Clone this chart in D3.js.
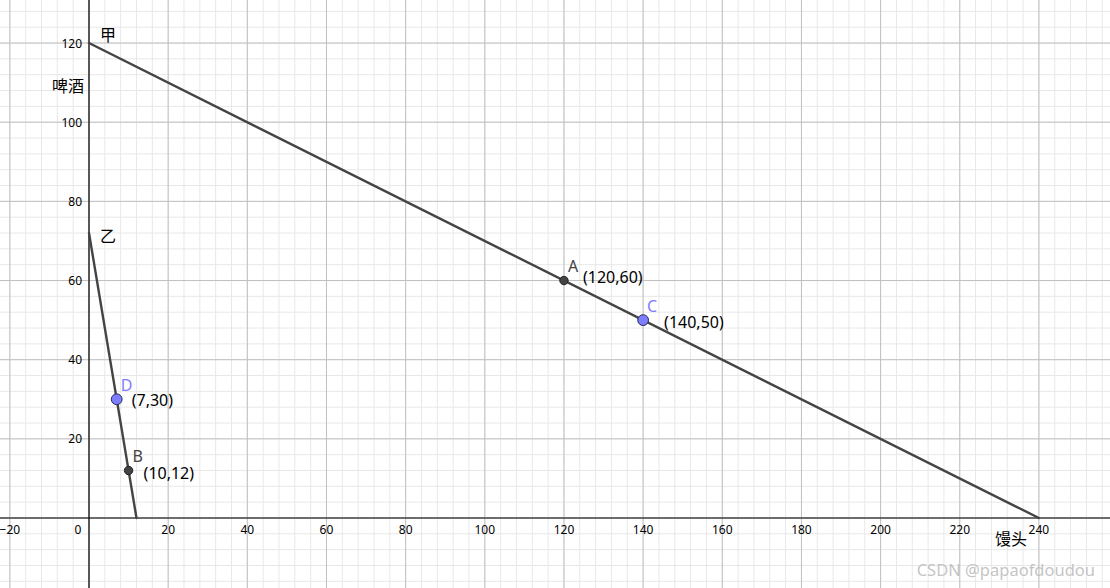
<!DOCTYPE html>
<html>
<head>
<meta charset="utf-8">
<script src="https://cdn.jsdelivr.net/npm/d3@7"></script>
<style>
  body { margin: 0; background: #fff; }
  svg { display: block; font-family: "Noto Sans", "Noto Sans CJK SC", sans-serif; }
</style>
</head>
<body>
<svg id="chart" width="1110" height="588"></svg>
<script>
// data
const xTicks = [-20, 0, 20, 40, 60, 80, 100, 120, 140, 160, 180, 200, 220, 240]
const yTicks = [20, 40, 60, 80, 100, 120]
const lines = [
  { name: "甲", from: [0, 120], to: [240, 0] },
  { name: "乙", from: [0, 72], to: [12, 0] }
]
const points = [
  { name: "A", x: 120, y: 60, kind: "fixed" },
  { name: "B", x: 10, y: 12, kind: "fixed" },
  { name: "C", x: 140, y: 50, kind: "free" },
  { name: "D", x: 7, y: 30, kind: "free" }
]
const xAxisName = "馒头", yAxisName = "啤酒"

const W = 1110, H = 588
const x0 = 89, y0 = 518, k = 3.958
const x = d3.scaleLinear().domain([-x0 / k, (W - x0) / k]).range([0, W])
const y = d3.scaleLinear().domain([(y0 - H) / k, y0 / k]).range([H, 0])

const svg = d3.select("#chart")

// minor grid every 4, major every 20
const minorX = d3.range(-20, 260, 4), minorY = d3.range(-16, 132, 4)
const g = svg.append("g")
g.selectAll(".mx").data(minorX).enter().append("line")
  .attr("x1", d => x(d)).attr("x2", d => x(d)).attr("y1", 0).attr("y2", H)
  .attr("stroke", "#e8e8e8").attr("stroke-width", 1)
g.selectAll(".my").data(minorY).enter().append("line")
  .attr("y1", d => y(d)).attr("y2", d => y(d)).attr("x1", 0).attr("x2", W)
  .attr("stroke", "#e8e8e8").attr("stroke-width", 1)
g.selectAll(".Mx").data(d3.range(-20, 260, 20)).enter().append("line")
  .attr("x1", d => x(d)).attr("x2", d => x(d)).attr("y1", 0).attr("y2", H)
  .attr("stroke", "#c0c0c0").attr("stroke-width", 1)
g.selectAll(".My").data(d3.range(-0, 132, 20)).enter().append("line")
  .attr("y1", d => y(d)).attr("y2", d => y(d)).attr("x1", 0).attr("x2", W)
  .attr("stroke", "#c0c0c0").attr("stroke-width", 1)

// axes
svg.append("line").attr("x1", 0).attr("x2", W).attr("y1", y(0)).attr("y2", y(0))
  .attr("stroke", "#000").attr("stroke-width", 1.2)
svg.append("line").attr("x1", x(0)).attr("x2", x(0)).attr("y1", 0).attr("y2", H)
  .attr("stroke", "#000").attr("stroke-width", 1.2)

svg.selectAll(".xt").data(xTicks).enter().append("text")
  .attr("x", d => d === 0 ? x(0) - 11 : x(d))
  .attr("y", y(0) + 16)
  .attr("text-anchor", "middle")
  .attr("font-size", 12).attr("fill", "#000")
  .text(d => d < 0 ? "\u2212" + Math.abs(d) : d)
svg.selectAll(".yt").data(yTicks).enter().append("text")
  .attr("x", x(0) - 7)
  .attr("y", d => y(d) + 4.5)
  .attr("text-anchor", "end")
  .attr("font-size", 12).attr("fill", "#000")
  .text(d => d)

svg.append("text").attr("x", x(0) - 21).attr("y", 92).attr("text-anchor", "middle")
  .attr("font-size", 16).text(yAxisName)
svg.append("text").attr("x", 1011).attr("y", 545).attr("text-anchor", "middle")
  .attr("font-size", 16).text(xAxisName)

// lines
svg.selectAll(".seg").data(lines).enter().append("line")
  .attr("x1", d => x(d.from[0])).attr("y1", d => y(d.from[1]))
  .attr("x2", d => x(d.to[0])).attr("y2", d => y(d.to[1]))
  .attr("stroke", "#444").attr("stroke-width", 2.4).attr("stroke-linecap", "round")
// label offsets from each line's start point
const nameDy = { "甲": -2, "乙": 9 }
svg.selectAll(".lname").data(lines).enter().append("text")
  .attr("x", d => x(d.from[0]) + 11).attr("y", d => y(d.from[1]) + nameDy[d.name])
  .attr("font-size", 16).attr("fill", "#000").text(d => d.name)

// points
svg.selectAll(".pt").data(points).enter().append("circle")
  .attr("cx", d => x(d.x)).attr("cy", d => y(d.y))
  .attr("r", d => d.kind === "free" ? 5.4 : 4.2)
  .attr("fill", d => d.kind === "free" ? "#7d7dff" : "#444")
  .attr("stroke", d => d.kind === "free" ? "#2a2a55" : "#222").attr("stroke-width", 1)
svg.selectAll(".pn").data(points).enter().append("text")
  .attr("x", d => x(d.x) + 4).attr("y", d => y(d.y) - 8.5)
  .attr("font-size", 16).attr("fill", d => d.kind === "free" ? "#7d7dff" : "#444")
  .text(d => d.name)
// coordinate label offsets (dx, dy) per point
const coordOff = { A: [19, 2], B: [15, 8], C: [21, 8], D: [15, 7] }
svg.selectAll(".pc").data(points).enter().append("text")
  .attr("x", d => x(d.x) + coordOff[d.name][0]).attr("y", d => y(d.y) + coordOff[d.name][1])
  .attr("font-size", 16).attr("fill", "#000")
  .text(d => `(${d.x},${d.y})`)

// watermark
svg.append("text").attr("x", 1095).attr("y", 576).attr("text-anchor", "end")
  .attr("font-size", 16.5).attr("fill", "#bdbdbd").attr("fill-opacity", 0.9)
  .text("CSDN @papaofdoudou")
</script>
</body>
</html>
